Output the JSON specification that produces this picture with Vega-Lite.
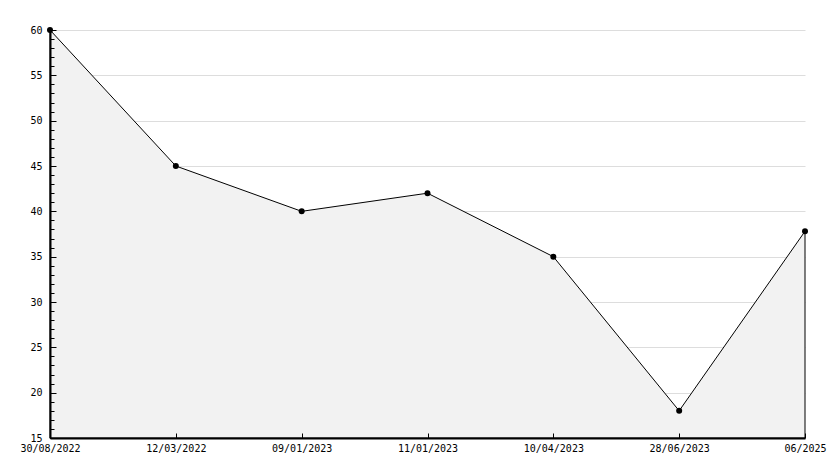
{
  "$schema": "https://vega.github.io/schema/vega-lite/v6.json",
  "width": 755,
  "height": 408,
  "autosize": "none",
  "padding": {"left": 50, "top": 30, "right": 29, "bottom": 30},
  "background": "white",
  "config": {
    "view": {"stroke": null},
    "axis": {"labelFont": "DejaVu Sans Mono", "labelFontSize": 10, "labelColor": "#000", "domainColor": "#000", "tickColor": "#000"}
  },
  "data": {
    "values": [
      {"date": "30/08/2022", "value": 60},
      {"date": "12/03/2022", "value": 45},
      {"date": "09/01/2023", "value": 40},
      {"date": "11/01/2023", "value": 42},
      {"date": "10/04/2023", "value": 35},
      {"date": "28/06/2023", "value": 18},
      {"date": "06/2025", "value": 37.8}
    ]
  },
  "encoding": {
    "x": {
      "field": "date", "type": "ordinal", "sort": null,
      "scale": {"type": "point", "padding": 0},
      "axis": {"title": null, "labelAngle": 0, "tickSize": -5, "labelPadding": 10, "grid": false, "domainWidth": 2, "zindex": 1}
    }
  },
  "layer": [
    {
      "mark": {"type": "area", "color": "#f2f2f2", "stroke": "#000", "strokeWidth": 1},
      "encoding": {
        "y": {
          "field": "value", "type": "quantitative",
          "scale": {"domain": [15, 60], "zero": false, "nice": false},
          "axis": {"title": null, "orient": "left", "values": [20, 25, 30, 35, 40, 45, 50, 55, 60], "labels": false, "ticks": false, "domain": false, "grid": true, "gridColor": "#dddddd", "zindex": 0}
        },
        "y2": {"datum": 15}
      }
    },
    {
      "mark": {"type": "point", "filled": true, "color": "#000", "size": 36, "opacity": 1},
      "encoding": {
        "y": {
          "field": "value", "type": "quantitative",
          "axis": {"title": null, "orient": "left", "values": [15, 20, 25, 30, 35, 40, 45, 50, 55, 60], "tickSize": -6, "labelPadding": 14, "grid": false, "domainWidth": 2, "zindex": 1}
        }
      }
    },
    {
      "mark": {"type": "point", "size": 0, "opacity": 0},
      "encoding": {
        "y": {
          "field": "value", "type": "quantitative",
          "axis": {"title": null, "orient": "left", "values": [16,17,18,19,21,22,23,24,26,27,28,29,31,32,33,34,36,37,38,39,41,42,43,44,46,47,48,49,51,52,53,54,56,57,58,59], "labels": false, "tickSize": -4, "grid": false, "domain": false, "zindex": 1}
        }
      }
    }
  ],
  "resolve": {"axis": {"y": "independent"}}
}
